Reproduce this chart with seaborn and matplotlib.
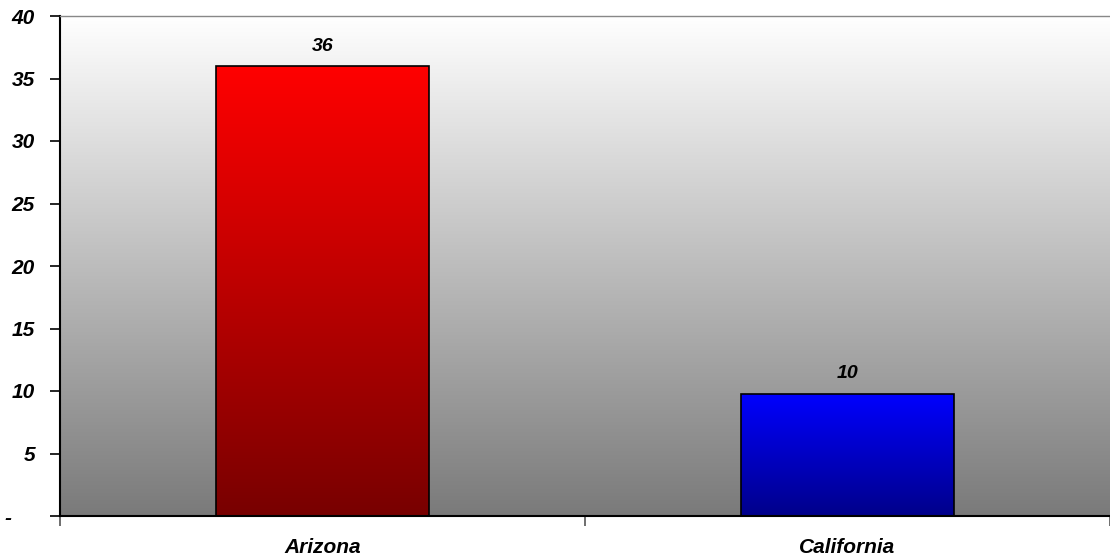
import numpy as np
import pandas as pd
import matplotlib
matplotlib.use("Agg")
import matplotlib.pyplot as plt
import seaborn as sns
from matplotlib.colors import LinearSegmentedColormap

categories = ["Arizona", "California"]
values = [36, 9.8]
bar_labels = ["36", "10"]
top_colors = ["#ff0000", "#0000ff"]
bottom_colors = ["#780000", "#00008a"]
y_ticks = [0, 5, 10, 15, 20, 25, 30, 35, 40]
y_tick_labels = ["-    ", "5", "10", "15", "20", "25", "30", "35", "40"]

sns.set_theme(style="white")
plt.rcParams["font.family"] = ["Liberation Sans", "DejaVu Sans"]
plt.rcParams["text.color"] = "black"
plt.rcParams["xtick.color"] = "black"
plt.rcParams["ytick.color"] = "black"

W, H = 1110, 559
fig = plt.figure(figsize=(W / 100, H / 100), dpi=100)
ax = fig.add_axes([60 / W, (H - 516) / H, (1110 - 60) / W, (516 - 16) / H])

df = pd.DataFrame({"state": categories, "count": values})
sns.barplot(data=df, x="state", y="count", hue="state", palette=top_colors,
            width=0.405, edgecolor="black", linewidth=1.2, legend=False, ax=ax)

ax.set_xlim(-0.5, 1.5)
ax.set_ylim(0, 40)

# background gradient
bg = np.linspace(0, 1, 256).reshape(-1, 1)
bg_cmap = LinearSegmentedColormap.from_list("bg", ["#7a7a7a", "#ffffff"])
ax.imshow(bg, cmap=bg_cmap, extent=[-0.5, 1.5, 0, 40], origin="lower",
          aspect="auto", zorder=0)

# bar gradients
for patch, tc, bc in zip(ax.patches, top_colors, bottom_colors):
    x0, y0 = patch.get_x(), patch.get_y()
    w, h = patch.get_width(), patch.get_height()
    cmap = LinearSegmentedColormap.from_list("g", [bc, tc])
    im = ax.imshow(bg, cmap=cmap, extent=[x0, x0 + w, y0, y0 + h], origin="lower",
                   aspect="auto", zorder=patch.get_zorder() + 0.1)
    im.set_clip_path(patch)
    patch.set_facecolor("none")
    patch.set_zorder(patch.get_zorder() + 0.2)

ax.set_xlim(-0.5, 1.5)
ax.set_ylim(0, 40)

for i, (v, lab) in enumerate(zip(values, bar_labels)):
    ax.annotate(lab, (i, v), xytext=(0, 8), textcoords="offset points",
                ha="center", va="bottom", fontsize=14, fontweight="bold",
                fontstyle="italic", color="black")

ax.set_yticks(y_ticks)
ax.set_yticklabels(y_tick_labels)
ax.set_xticks([0, 1])
ax.set_xticklabels(categories)
ax.set_xticks([-0.5, 0.5, 1.5], minor=True)
ax.tick_params(axis="x", which="major", length=0, pad=16)
ax.tick_params(axis="x", which="minor", length=7, width=1.2, color="#555555", bottom=True)
ax.tick_params(axis="y", which="major", length=7, width=1.2, color="black", left=True, pad=11)
for lab in ax.get_xticklabels():
    lab.set_fontsize(15)
    lab.set_fontweight("bold")
    lab.set_fontstyle("italic")
    lab.set_color("black")
for lab in ax.get_yticklabels():
    lab.set_fontsize(15)
    lab.set_fontweight("bold")
    lab.set_fontstyle("italic")
    lab.set_color("black")

ax.set_xlabel("")
ax.set_ylabel("")
for s in ["left", "bottom"]:
    ax.spines[s].set_color("black")
    ax.spines[s].set_linewidth(1.5)
ax.spines["top"].set_color("#888888")
ax.spines["top"].set_linewidth(1.0)
ax.spines["right"].set_visible(False)

fig.savefig("out.png", dpi=100, facecolor="white")
